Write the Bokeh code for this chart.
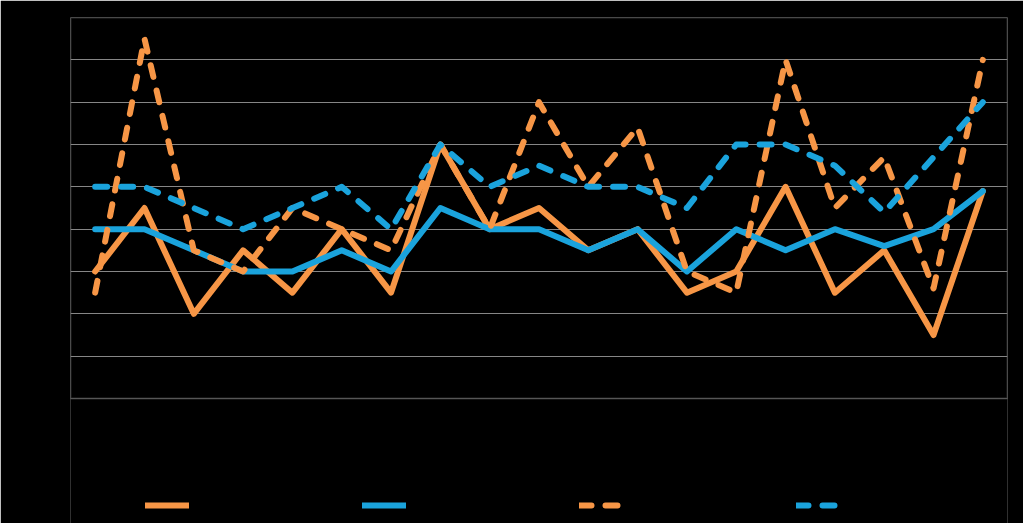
from bokeh.plotting import figure
from bokeh.models import FactorRange, Range1d, Legend, LegendItem, ColumnDataSource, BoxAnnotation
from bokeh.embed import file_html
from bokeh.resources import INLINE

categories = [str(i) for i in range(1, 20)]
y_ticks = list(range(0, 10))

orange_solid = [3.0, 4.5, 2.0, 3.5, 2.5, 4.0, 2.5, 6.0, 4.0, 4.5, 3.5, 4.0, 2.5, 3.0, 5.0, 2.5, 3.5, 1.5, 4.9]
blue_solid = [4.0, 4.0, 3.5, 3.0, 3.0, 3.5, 3.0, 4.5, 4.0, 4.0, 3.5, 4.0, 3.0, 4.0, 3.5, 4.0, 3.6, 4.0, 4.9]
orange_dashed = [2.5, 8.5, 3.5, 3.0, 4.5, 4.0, 3.5, 6.0, 4.0, 7.0, 5.0, 6.4, 3.0, 2.5, 8.0, 4.5, 5.7, 2.6, 8.0]
blue_dashed = [5.0, 5.0, 4.5, 4.0, 4.5, 5.0, 4.0, 6.0, 5.0, 5.5, 5.0, 5.0, 4.5, 6.0, 6.0, 5.5, 4.4, 5.7, 7.0]

series_names = ["Series 1", "Series 2", "Series 3", "Series 4"]

ORANGE = "#F79646"
BLUE = "#1AA3DC"
GRID = "#868686"

styles = [
    dict(line_color=ORANGE),
    dict(line_color=BLUE),
    dict(line_color=ORANGE, line_dash="12 14"),
    dict(line_color=BLUE, line_dash="12 14"),
]
common = dict(line_width=6, line_join="round", line_cap="round")

# plot area: 381 px for 9 units; legend strip of 125 px below value 0
Y_MAX = 9
Y_MIN = -125 * Y_MAX / 381

p = figure(width=1023, height=523, output_backend="svg", toolbar_location=None,
           x_range=FactorRange(*categories, range_padding=0),
           y_range=Range1d(Y_MIN, Y_MAX),
           min_border_left=70, min_border_right=16, min_border_top=17, min_border_bottom=0,
           background_fill_color="black", border_fill_color="black")
p.outline_line_color = None
p.xgrid.grid_line_color = None
p.ygrid.grid_line_color = GRID
p.ygrid.grid_line_width = 1
p.yaxis.ticker = y_ticks
p.xaxis.visible = False
ya = p.yaxis[0]
ya.axis_line_color = None
ya.major_tick_line_color = None
ya.minor_tick_line_color = None
ya.major_label_text_color = "black"
ya.major_tick_out = 0
ya.major_tick_in = 0

# black strip under the plot area (legend zone), then the grey plot-area border
p.add_layout(BoxAnnotation(top=0, fill_color="black", fill_alpha=1, line_alpha=0, level="underlay"))
p.add_layout(BoxAnnotation(bottom=0, top=Y_MAX, fill_alpha=0, line_color=GRID, line_width=2))

src = ColumnDataSource(dict(x=categories, a=orange_solid, b=blue_solid, c=orange_dashed, d=blue_dashed))
rs = [p.line("x", col, source=src, **st, **common) for col, st in zip(["a", "b", "c", "d"], styles)]

legend = Legend(items=[LegendItem(label=n, renderers=[r]) for n, r in zip(series_names, rs)],
                orientation="horizontal", location=(75, 11),
                glyph_width=44, glyph_height=12, label_standoff=5, label_width=168,
                spacing=0, padding=0, margin=0,
                label_text_color="black", label_text_font_size="12px",
                border_line_color=None, background_fill_alpha=0)
p.add_layout(legend, "center")

open("out.html", "w").write(file_html(p, INLINE))
